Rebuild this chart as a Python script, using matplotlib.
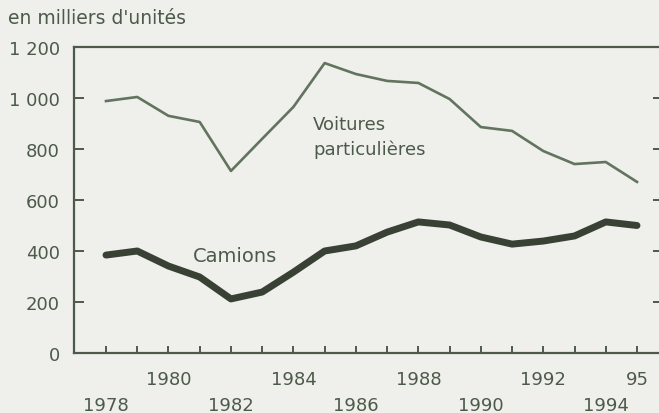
import matplotlib
matplotlib.use("Agg")
import matplotlib.pyplot as plt

years = list(range(1978, 1996))
voitures = [988, 1004, 930, 906, 714, 840, 965, 1137, 1094, 1067, 1059, 996, 886, 871, 792, 741, 749, 671]
camions = [384, 400, 341, 298, 212, 239, 317, 400, 420, 474, 514, 502, 455, 427, 439, 459, 514, 500]

upper_labels = {1980: "1980", 1984: "1984", 1988: "1988", 1992: "1992", 1995: "95"}
lower_labels = {1978: "1978", 1982: "1982", 1986: "1986", 1990: "1990", 1994: "1994"}
yticks = [0, 200, 400, 600, 800, 1000, 1200]
ytick_labels = ["0", "200", "400", "600", "800", "1 000", "1 200"]

bg = "#efefec"
ink = "#4c5a49"
plt.rcParams['font.family'] = ['DejaVu Sans']

fig = plt.figure(figsize=(6.59, 4.14), dpi=100, facecolor=bg)
ax = fig.add_axes([74/659, 60/414, (663-74)/659, 306/414])
ax.set_facecolor(bg)

ax.plot(years, voitures, color="#62745d", lw=1.9, solid_joinstyle="round")
ax.plot(years, camions, color="#384134", lw=5.0, solid_joinstyle="round", solid_capstyle="round")

px_per_year = (637 - 106) / 17
ax.set_xlim(1978 - (106 - 74) / px_per_year, 1995 + (663 - 637) / px_per_year)
ax.set_ylim(0, 1200)

for s in ax.spines.values():
    s.set_color(ink)
    s.set_linewidth(1.6)

ax.set_yticks(yticks)
ax.set_yticklabels(ytick_labels)
ax.tick_params(axis="y", direction="in", length=7, width=1.4, color=ink,
               labelsize=13, labelcolor=ink, pad=10, right=True, left=True)

ax.set_xticks(years)
labels = [upper_labels.get(y, lower_labels.get(y, "")) for y in years]
ax.set_xticklabels(labels)
ax.tick_params(axis="x", direction="in", length=5, width=1.4, color=ink,
               labelsize=13, labelcolor=ink)
for y, t in zip(years, ax.xaxis.get_major_ticks()):
    if y in lower_labels:
        t.set_pad(31)
    else:
        t.set_pad(12)

# annotations placed in pixel coordinates (top-left origin converted)
ax.text(313, 414 - 125, "Voitures", transform=None, color=ink, fontsize=13, va="center", ha="left")
ax.text(313, 414 - 150, "particulières", transform=None, color=ink, fontsize=13, va="center", ha="left")
ax.text(193, 414 - 257, "Camions", transform=None, color=ink, fontsize=14, va="center", ha="left")
fig.text(8/659, 1 - 18/414, "en milliers d'unités", color=ink, fontsize=13.5, va="center", ha="left")

fig.savefig("out.png", dpi=100, facecolor=bg)
